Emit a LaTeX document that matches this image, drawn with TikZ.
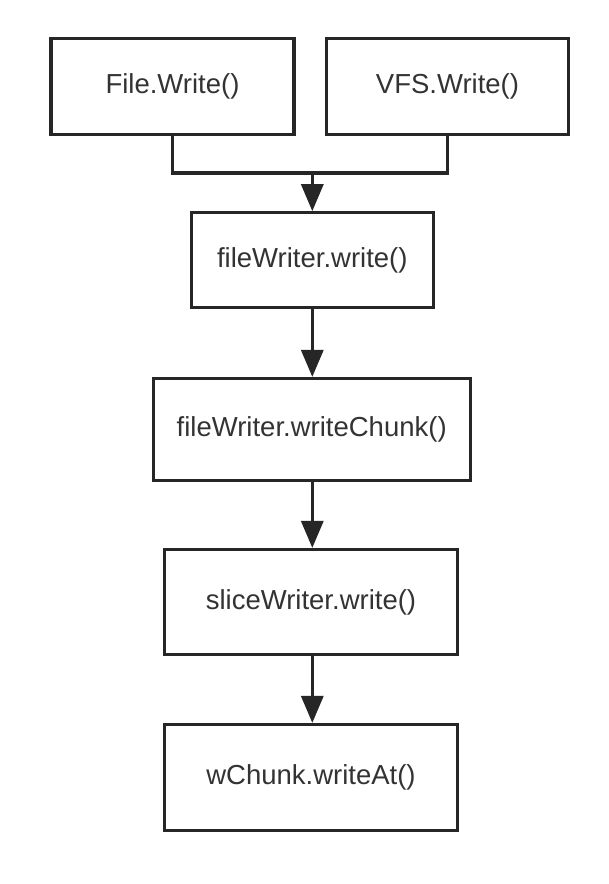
\documentclass[tikz,border=0pt]{standalone}
\usepackage{fontspec}
\setmainfont{Liberation Sans}
\usetikzlibrary{arrows.meta}
\definecolor{linec}{HTML}{262626}
\definecolor{textc}{HTML}{333333}
\begin{document}
\begin{tikzpicture}[x=1pt,y=-1pt,
  box/.style={draw=linec, line width=3.2pt, fill=white, inner sep=0pt,
    font=\fontsize{27.5}{32}\selectfont, text=textc},
  conn/.style={draw=linec, line width=3.2pt},
  arr/.style={conn, -{Triangle[width=22pt,length=27pt]}}]
\useasboundingbox (0,0) rectangle (609,884);
\fill[white] (0,0) rectangle (609,884);
\node[box, minimum width=243pt, minimum height=96pt] (file) at (172.5,86.5) {File.Write()};
\node[box, minimum width=242pt, minimum height=96pt] (vfs) at (447.5,86.5) {VFS.Write()};
\node[box, minimum width=242pt, minimum height=95pt] (fw) at (312.3,260.3) {fileWriter.write()};
\node[box, minimum width=317pt, minimum height=102pt] (chunk) at (311.7,429.5) {fileWriter.writeChunk()};
\node[box, minimum width=293pt, minimum height=105pt] (slice) at (311,602) {sliceWriter.write()};
\node[box, minimum width=293pt, minimum height=106pt] (wchunk) at (311,777.5) {wChunk.writeAt()};
\coordinate (join) at (312.3,173);
\draw[conn] (file.south) |- (join) -| (vfs.south);
\draw[arr] (join) -- (fw.north);
\draw[arr] (fw.south) -- (fw.south |- chunk.north);
\draw[arr] (fw.south |- chunk.south) -- (fw.south |- slice.north);
\draw[arr] (fw.south |- slice.south) -- (fw.south |- wchunk.north);
\end{tikzpicture}
\end{document}
